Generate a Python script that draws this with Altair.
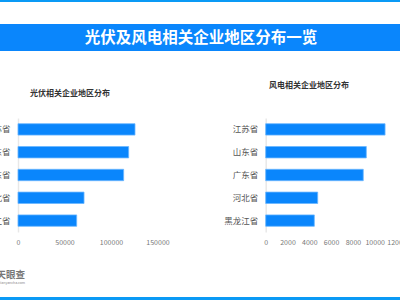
import altair as alt
import pandas as pd

# ---- data ----
pv_provinces = ["江苏省", "山东省", "广东省", "河北省", "浙江省"]
pv_values = [125800, 119000, 113600, 71000, 63100]
wind_provinces = ["江苏省", "山东省", "广东省", "河北省", "黑龙江省"]
wind_values = [10950, 9230, 8950, 4770, 4460]
pv_ticks = [0, 50000, 100000, 150000]
wind_ticks = [0, 2000, 4000, 6000, 8000, 10000, 12000]

main_title = "光伏及风电相关企业地区分布一览"
pv_title = "光伏相关企业地区分布"
wind_title = "风电相关企业地区分布"

FONT = "Noto Sans CJK SC"
BLUE = "#0a86fc"

one = pd.DataFrame({"k": [0]})
pv_df = pd.DataFrame({"p": pv_provinces, "v": pv_values})
wind_df = pd.DataFrame({"p": wind_provinces, "v": wind_values})

top_line = alt.Chart(one).mark_rect(color="#0a9af5").encode(
    x=alt.value(0), x2=alt.value(400), y=alt.value(0), y2=alt.value(2))
bottom_line = alt.Chart(one).mark_rect(color="#0a9af5").encode(
    x=alt.value(0), x2=alt.value(400), y=alt.value(297), y2=alt.value(300))
banner = alt.Chart(one).mark_rect(color=BLUE).encode(
    x=alt.value(0), x2=alt.value(400), y=alt.value(24), y2=alt.value(51))
banner_text = alt.Chart(one).mark_text(
    text=main_title, font=FONT, fontSize=15.5, fontWeight="bold", color="white",
    align="center", baseline="middle").encode(x=alt.value(201), y=alt.value(37.5))

pv_t = alt.Chart(one).mark_text(
    text=pv_title, font=FONT, fontSize=8, fontWeight="bold", color="#333",
    align="center", baseline="middle").encode(x=alt.value(70), y=alt.value(93.5))
wind_t = alt.Chart(one).mark_text(
    text=wind_title, font=FONT, fontSize=8, fontWeight="bold", color="#333",
    align="center", baseline="middle").encode(x=alt.value(309), y=alt.value(85.5))

logo = alt.Chart(one).mark_text(
    text="天眼查", font=FONT, fontSize=9.5, fontWeight="bold", color="#777",
    align="left", baseline="middle").encode(x=alt.value(-3.5), y=alt.value(275))
logo_sub = alt.Chart(one).mark_text(
    text="tianyancha.com", font=FONT, fontSize=3.5, color="#888",
    align="left", baseline="middle").encode(x=alt.value(-1), y=alt.value(283))

def bars(df, domain, xrange, ticks, yoff):
    return alt.Chart(df).mark_bar(color=BLUE, stroke="#6ab6ff", strokeWidth=0.8).encode(
        x=alt.X("v:Q",
                scale=alt.Scale(domain=domain, range=xrange, nice=False),
                axis=alt.Axis(orient="bottom", offset=-64, values=ticks, format="d",
                              domain=False, ticks=False, grid=False, title=None,
                              labelFont=FONT, labelFontSize=7, labelColor="#777",
                              labelPadding=2, labelFlush=False, labelOverlap=False,
                              labelBound=False)),
        y=alt.Y("p:N", sort=None,
                scale=alt.Scale(range=[118, 232], paddingInner=0.5, paddingOuter=0.25),
                axis=alt.Axis(orient="left", offset=yoff, domain=True,
                              domainColor="#e8e8e8", domainWidth=1.5, ticks=False,
                              grid=False, title=None, labelFont=FONT,
                              labelFontSize=8.5, labelColor="#555", labelPadding=8)),
    )

pv_bars = bars(pv_df, [0, 150000], [18, 157.5], pv_ticks, -18)
wind_bars = bars(wind_df, [0, 12000], [265.7, 396.5], wind_ticks, -265.7)

chart = alt.layer(
    top_line, bottom_line, banner, banner_text, pv_t, wind_t, logo, logo_sub,
    pv_bars, wind_bars,
).resolve_scale(x="independent", y="independent").resolve_axis(
    x="independent", y="independent"
).properties(
    width=400, height=300, padding=0,
    autosize=alt.AutoSizeParams(type="none"),
    background="white",
).configure_view(stroke=None)

chart.save("out.html", embed_options={"renderer": "svg", "actions": False})
